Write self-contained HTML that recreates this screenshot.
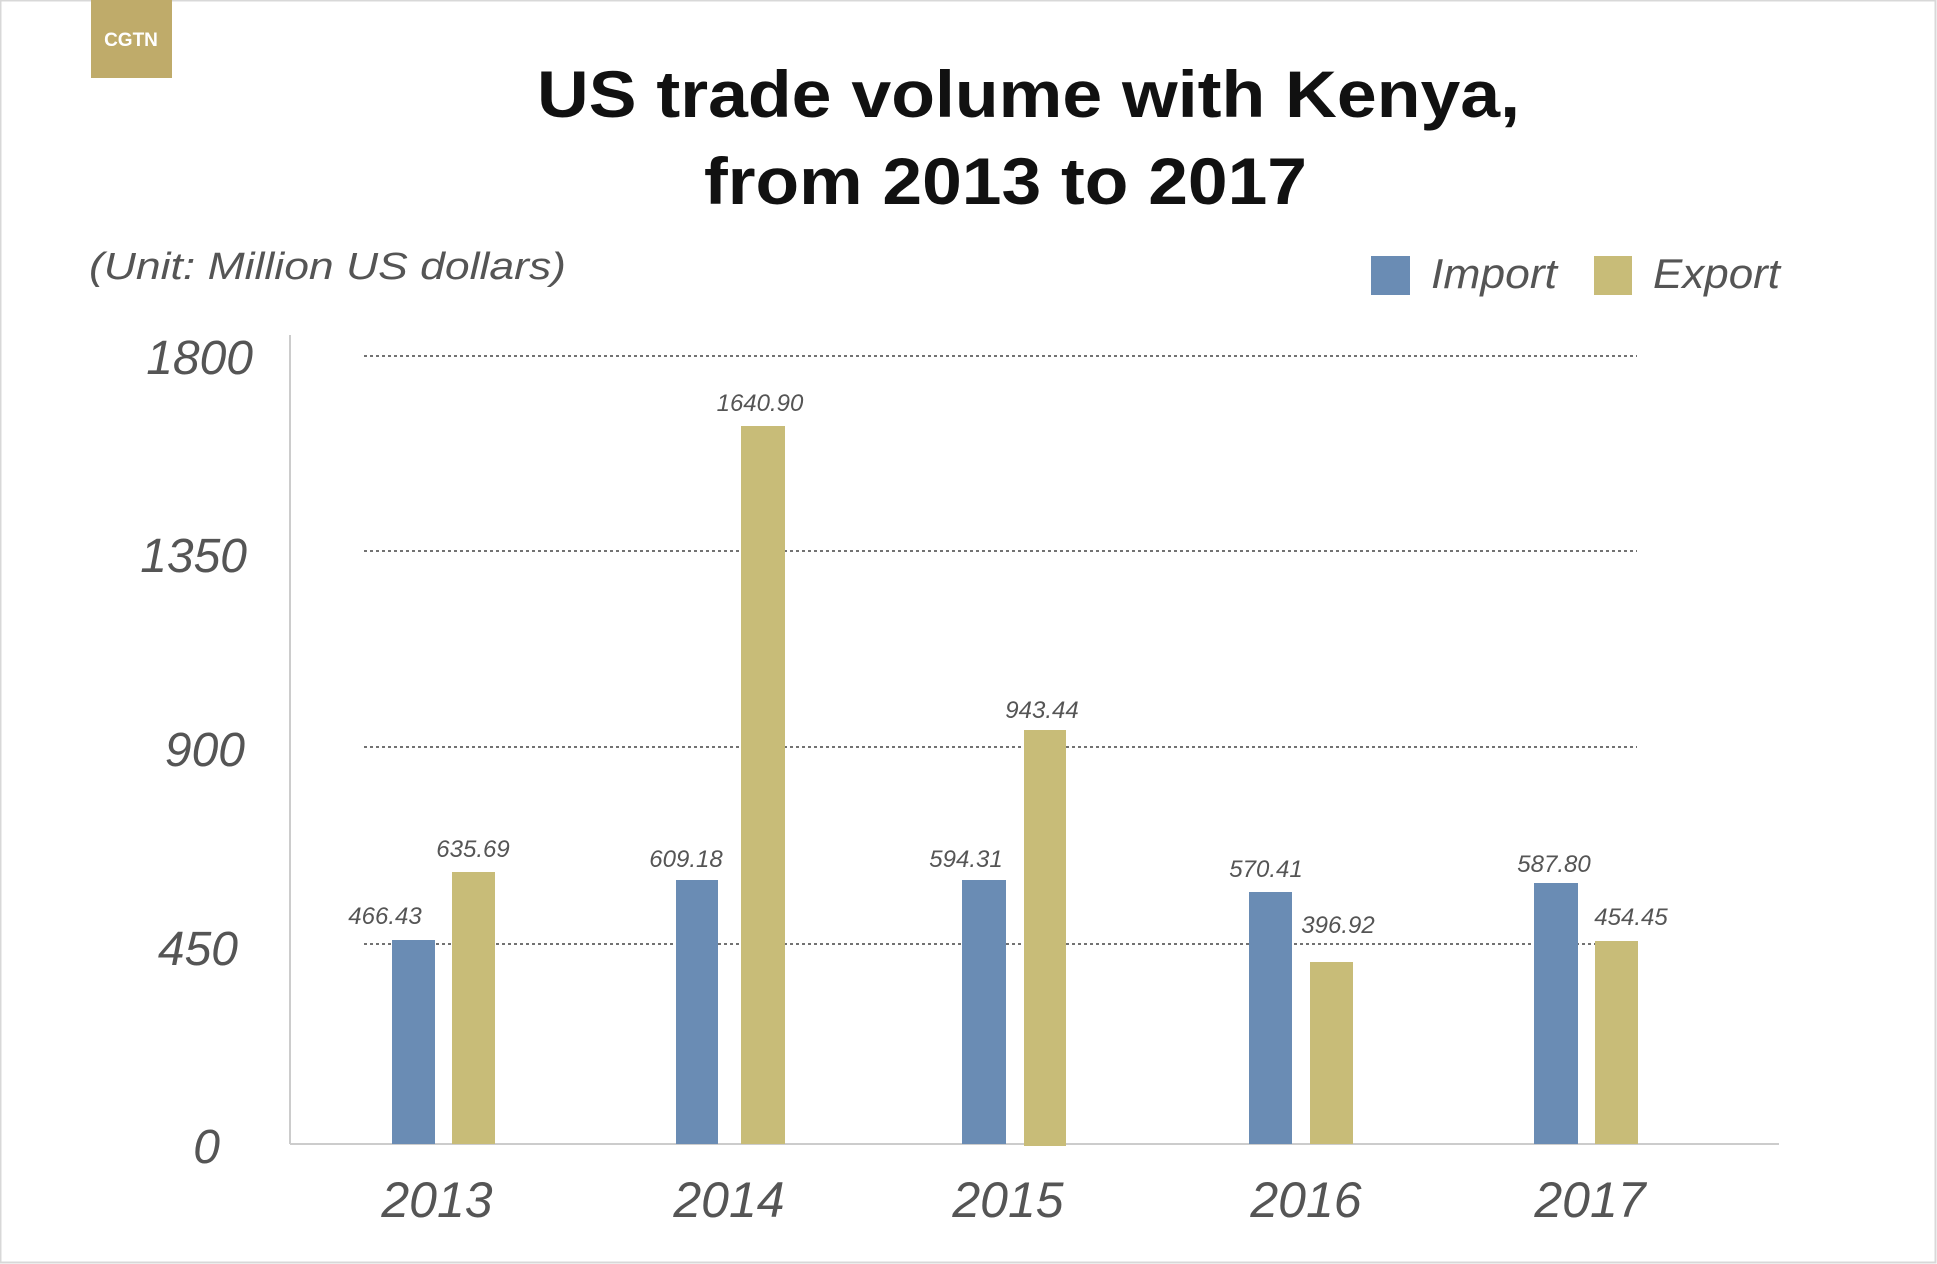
<!DOCTYPE html>
<html><head><meta charset="utf-8"><style>html,body{margin:0;padding:0;background:#fff}svg{display:block}</style></head>
<body>
<svg width="1937" height="1264" viewBox="0 0 1937 1264" xmlns="http://www.w3.org/2000/svg" font-family="Liberation Sans, sans-serif">
<rect x="0" y="0" width="1937" height="1264" fill="#fff"/>
<rect x="0.5" y="0.5" width="1935" height="1262" fill="none" stroke="#d8d8d8" stroke-width="2"/>
<rect x="91" y="0" width="81" height="78" fill="#bfab6a"/>
<text x="131" y="46" font-size="19" font-weight="bold" fill="#fff" text-anchor="middle">CGTN</text>
<text x="537" y="117" font-size="66" font-weight="bold" fill="#111" textLength="983" lengthAdjust="spacingAndGlyphs">US trade volume with Kenya,</text>
<text x="704" y="204" font-size="66" font-weight="bold" fill="#111" textLength="603" lengthAdjust="spacingAndGlyphs">from 2013 to 2017</text>
<text x="89" y="279" font-size="38" font-style="italic" fill="#555" textLength="477" lengthAdjust="spacingAndGlyphs">(Unit: Million US dollars)</text>
<rect x="1371" y="256" width="39" height="39" fill="#6a8cb4"/>
<text x="1431" y="288" font-size="42" font-style="italic" fill="#555" textLength="126" lengthAdjust="spacingAndGlyphs">Import</text>
<rect x="1594" y="256" width="38" height="39" fill="#c8bc78"/>
<text x="1653" y="288" font-size="42" font-style="italic" fill="#555" textLength="127" lengthAdjust="spacingAndGlyphs">Export</text>
<g stroke="#444" stroke-width="1.5" stroke-dasharray="3,3">
<line x1="364" y1="356" x2="1637" y2="356"/>
<line x1="364" y1="551" x2="1637" y2="551"/>
<line x1="364" y1="747" x2="1637" y2="747"/>
<line x1="364" y1="944" x2="1637" y2="944"/>
</g>
<line x1="290" y1="335" x2="290" y2="1144" stroke="#ccc" stroke-width="2"/>
<line x1="290" y1="1144" x2="1779" y2="1144" stroke="#ccc" stroke-width="2"/>
<g font-size="48" font-style="italic" fill="#555" text-anchor="end">
<text x="253" y="374">1800</text>
<text x="247" y="572">1350</text>
<text x="245" y="766">900</text>
<text x="238" y="965">450</text>
<text x="220" y="1163">0</text>
</g>
<g fill="#6a8cb4">
<rect x="392" y="940" width="43" height="204"/>
<rect x="676" y="880" width="42" height="264"/>
<rect x="962" y="880" width="44" height="264"/>
<rect x="1249" y="892" width="43" height="252"/>
<rect x="1534" y="883" width="44" height="261"/>
</g>
<g fill="#c8bc78">
<rect x="452" y="872" width="43" height="272"/>
<rect x="741" y="426" width="44" height="718"/>
<rect x="1024" y="730" width="42" height="416"/>
<rect x="1310" y="962" width="43" height="182"/>
<rect x="1595" y="941" width="43" height="203"/>
</g>
<g font-size="24" font-style="italic" fill="#555" text-anchor="middle">
<text x="385" y="924">466.43</text>
<text x="473" y="857">635.69</text>
<text x="686" y="867">609.18</text>
<text x="760" y="411">1640.90</text>
<text x="966" y="867">594.31</text>
<text x="1042" y="718">943.44</text>
<text x="1266" y="877">570.41</text>
<text x="1338" y="933">396.92</text>
<text x="1554" y="872">587.80</text>
<text x="1631" y="925">454.45</text>
</g>
<g font-size="50" font-style="italic" fill="#555" text-anchor="middle">
<text x="437" y="1217">2013</text>
<text x="729" y="1217">2014</text>
<text x="1008" y="1217">2015</text>
<text x="1306" y="1217">2016</text>
<text x="1590" y="1217">2017</text>
</g>
</svg>
</body></html>
